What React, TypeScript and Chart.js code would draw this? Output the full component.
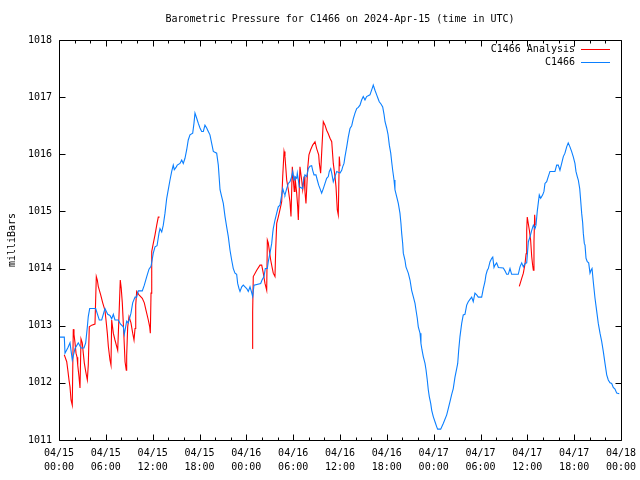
import React, { useEffect, useRef } from "react";
import { Chart, registerables } from "chart.js";

Chart.register(...registerables);

const titleText = "Barometric Pressure for C1466 on 2024-Apr-15 (time in UTC)";
const yAxisTitle = "milliBars";
const legendLabels = ["C1466 Analysis", "C1466"];
const seriesColors = ["#ff0000", "#0a7fff"];

// x in hours since 2024-04-15 00:00 UTC
const xTickLabels: string[][] = [
  ["04/15", "00:00"], ["04/15", "06:00"], ["04/15", "12:00"], ["04/15", "18:00"],
  ["04/16", "00:00"], ["04/16", "06:00"], ["04/16", "12:00"], ["04/16", "18:00"],
  ["04/17", "00:00"], ["04/17", "06:00"], ["04/17", "12:00"], ["04/17", "18:00"],
  ["04/18", "00:00"],
];
const yTickLabels = ["1011", "1012", "1013", "1014", "1015", "1016", "1017", "1018"];

const stationSeries: [number, number][] = [
  [0.13,1012.80],[0.68,1012.80],[0.77,1012.52],[1.15,1012.62],[1.41,1012.70],[1.70,1012.40],[2.05,1012.60],[2.47,1012.70],[2.82,1012.61],[3.20,1012.61],[3.42,1012.70],[3.63,1012.98],[3.75,1013.16],[3.93,1013.30],[4.70,1013.30],[5.16,1013.10],[5.47,1013.10],[5.89,1013.30],[6.24,1013.20],[6.53,1013.18],[6.75,1013.12],[6.96,1013.20],[7.17,1013.10],[7.60,1013.10],[7.86,1013.03],[8.24,1012.98],[8.37,1012.85],[8.67,1013.08],[8.88,1013.05],[9.22,1013.22],[9.44,1013.40],[9.74,1013.50],[9.95,1013.50],[10.16,1013.61],[10.67,1013.61],[10.93,1013.71],[11.24,1013.86],[11.53,1013.99],[11.79,1014.04],[12.08,1014.27],[12.30,1014.38],[12.56,1014.40],[12.81,1014.62],[12.94,1014.70],[13.16,1014.64],[13.36,1014.76],[13.58,1014.97],[13.80,1015.23],[14.00,1015.38],[14.22,1015.55],[14.44,1015.70],[14.64,1015.81],[14.77,1015.73],[14.99,1015.77],[15.15,1015.81],[15.50,1015.84],[15.72,1015.90],[15.92,1015.84],[16.14,1015.93],[16.36,1016.08],[16.56,1016.25],[16.78,1016.34],[17.13,1016.37],[17.29,1016.54],[17.42,1016.72],[17.64,1016.63],[17.85,1016.54],[18.06,1016.46],[18.28,1016.40],[18.49,1016.40],[18.70,1016.51],[18.92,1016.46],[19.13,1016.40],[19.34,1016.34],[19.56,1016.19],[19.77,1016.05],[20.20,1016.02],[20.41,1015.81],[20.63,1015.38],[20.84,1015.26],[21.05,1015.14],[21.27,1014.91],[21.48,1014.73],[21.69,1014.56],[21.91,1014.32],[22.12,1014.15],[22.33,1014.00],[22.55,1013.92],[22.76,1013.90],[22.89,1013.74],[23.06,1013.65],[23.19,1013.60],[23.41,1013.68],[23.61,1013.71],[23.83,1013.68],[24.05,1013.65],[24.25,1013.60],[24.47,1013.68],[24.64,1013.60],[24.81,1013.51],[24.98,1013.71],[25.84,1013.74],[26.01,1013.80],[26.26,1013.86],[26.43,1014.00],[26.69,1014.00],[26.81,1014.12],[27.03,1014.27],[27.25,1014.44],[27.38,1014.62],[27.45,1014.70],[27.67,1014.85],[27.89,1014.97],[28.09,1015.08],[28.31,1015.11],[28.53,1015.29],[28.66,1015.40],[28.83,1015.32],[28.95,1015.29],[29.17,1015.40],[29.38,1015.49],[29.59,1015.52],[29.81,1015.61],[29.94,1015.70],[30.11,1015.55],[30.23,1015.61],[30.45,1015.58],[30.53,1015.67],[30.66,1015.55],[30.78,1015.43],[31.22,1015.40],[31.30,1015.52],[31.51,1015.64],[31.73,1015.61],[31.94,1015.75],[32.15,1015.79],[32.37,1015.80],[32.50,1015.72],[32.67,1015.64],[32.92,1015.64],[33.09,1015.55],[33.27,1015.46],[33.44,1015.40],[33.65,1015.32],[33.86,1015.40],[34.08,1015.49],[34.29,1015.58],[34.50,1015.61],[34.63,1015.70],[34.81,1015.75],[34.94,1015.67],[35.14,1015.52],[35.36,1015.61],[35.58,1015.70],[36.00,1015.67],[36.22,1015.72],[36.34,1015.78],[36.51,1015.84],[36.64,1015.96],[36.86,1016.13],[37.06,1016.30],[37.28,1016.45],[37.50,1016.50],[37.70,1016.62],[37.92,1016.72],[38.14,1016.80],[38.34,1016.82],[38.56,1016.86],[38.77,1016.95],[38.98,1017.01],[39.20,1016.95],[39.41,1017.01],[39.84,1017.04],[40.19,1017.18],[40.26,1017.21],[40.48,1017.12],[40.70,1017.04],[40.86,1016.98],[41.03,1016.92],[41.25,1016.88],[41.47,1016.83],[41.64,1016.70],[41.77,1016.57],[41.98,1016.46],[42.15,1016.35],[42.32,1016.16],[42.50,1016.02],[42.62,1015.87],[42.75,1015.72],[42.92,1015.55],[43.04,1015.38],[43.26,1015.26],[43.47,1015.14],[43.68,1014.97],[43.81,1014.79],[43.90,1014.62],[44.03,1014.44],[44.11,1014.27],[44.32,1014.15],[44.45,1014.03],[44.75,1013.92],[44.97,1013.80],[45.18,1013.62],[45.39,1013.51],[45.61,1013.39],[45.74,1013.27],[45.90,1013.13],[46.03,1012.98],[46.25,1012.87],[46.37,1012.69],[46.50,1012.58],[46.67,1012.46],[46.89,1012.34],[47.02,1012.23],[47.18,1012.05],[47.31,1011.88],[47.44,1011.76],[47.62,1011.64],[47.75,1011.52],[47.95,1011.41],[48.17,1011.32],[48.39,1011.23],[48.51,1011.19],[48.90,1011.19],[49.23,1011.29],[49.67,1011.44],[49.87,1011.55],[50.09,1011.67],[50.31,1011.80],[50.51,1011.90],[50.73,1012.10],[50.95,1012.25],[51.08,1012.34],[51.21,1012.58],[51.37,1012.81],[51.59,1013.04],[51.79,1013.19],[52.01,1013.20],[52.23,1013.36],[52.43,1013.42],[52.65,1013.46],[52.87,1013.50],[53.07,1013.42],[53.29,1013.57],[53.51,1013.54],[53.72,1013.50],[54.15,1013.50],[54.36,1013.65],[54.57,1013.77],[54.70,1013.89],[54.87,1013.97],[55.00,1014.00],[55.22,1014.12],[55.44,1014.18],[55.57,1014.20],[55.73,1014.02],[55.86,1014.06],[56.07,1014.10],[56.29,1014.02],[56.92,1014.01],[57.14,1013.96],[57.35,1013.90],[57.56,1013.90],[57.78,1014.00],[57.99,1013.90],[58.84,1013.90],[59.06,1014.03],[59.28,1014.10],[59.49,1014.03],[59.71,1014.09],[59.92,1014.10],[60.13,1014.47],[60.35,1014.56],[60.56,1014.67],[60.77,1014.76],[60.98,1014.70],[61.11,1014.76],[61.27,1015.00],[61.53,1015.29],[61.71,1015.23],[61.97,1015.29],[62.13,1015.35],[62.26,1015.49],[62.48,1015.52],[62.68,1015.61],[62.90,1015.70],[63.54,1015.70],[63.76,1015.81],[63.96,1015.81],[64.18,1015.72],[64.40,1015.84],[64.61,1015.96],[64.82,1016.02],[65.04,1016.13],[65.24,1016.20],[65.46,1016.13],[65.67,1016.05],[65.88,1015.96],[66.10,1015.84],[66.23,1015.70],[66.40,1015.61],[66.53,1015.55],[66.71,1015.40],[66.83,1015.20],[66.96,1014.97],[67.09,1014.80],[67.17,1014.62],[67.30,1014.44],[67.39,1014.41],[67.52,1014.18],[67.68,1014.12],[67.86,1014.10],[68.03,1013.92],[68.16,1013.97],[68.29,1014.00],[68.45,1013.77],[68.67,1013.48],[68.89,1013.25],[69.09,1013.04],[69.31,1012.87],[69.53,1012.72],[69.73,1012.55],[69.95,1012.34],[70.17,1012.14],[70.37,1012.05],[70.59,1012.00],[70.81,1011.99],[71.01,1011.92],[71.23,1011.89],[71.45,1011.82],[71.78,1011.81],
];

const analysisDay1: [number, number][] = [
  [0.68,1012.49],[0.99,1012.37],[1.15,1012.20],[1.28,1012.05],[1.41,1011.93],[1.54,1011.70],[1.70,1011.61],[1.83,1012.94],[1.92,1012.85],[2.05,1012.70],[2.18,1012.52],[2.31,1012.45],[2.40,1012.31],[2.56,1012.11],[2.69,1011.91],[2.82,1012.77],[2.98,1012.70],[3.11,1012.52],[3.24,1012.35],[3.42,1012.20],[3.63,1012.05],[3.75,1012.31],[3.88,1012.98],[4.19,1013.01],[4.61,1013.03],[4.78,1013.86],[4.91,1013.80],[5.03,1013.69],[5.34,1013.54],[5.60,1013.40],[5.89,1013.27],[6.02,1013.10],[6.19,1012.87],[6.32,1012.64],[6.53,1012.40],[6.66,1012.31],[6.75,1013.10],[6.96,1012.87],[7.17,1012.75],[7.52,1012.57],[7.69,1013.19],[7.85,1013.80],[7.97,1013.66],[8.11,1013.40],[8.29,1012.90],[8.46,1012.37],[8.62,1012.22],[8.67,1012.48],[8.80,1012.98],[8.97,1013.16],[9.22,1013.05],[9.44,1012.87],[9.61,1012.75],[9.74,1012.95],[9.83,1013.36],[9.95,1013.60],[10.25,1013.54],[10.67,1013.48],[10.93,1013.40],[11.15,1013.27],[11.44,1013.10],[11.62,1012.98],[11.70,1012.87],[11.79,1013.57],[11.88,1014.30],[12.08,1014.44],[12.30,1014.59],[12.52,1014.76],[12.72,1014.90],[12.88,1014.90],
];

const analysisDay2: [number, number][] = [
  [24.76,1012.60],[24.81,1013.25],[24.89,1013.86],[25.33,1013.97],[25.75,1014.06],[25.97,1014.06],[26.17,1013.92],[26.39,1013.74],[26.61,1013.62],[26.69,1014.50],[26.81,1014.45],[26.94,1014.32],[27.12,1014.15],[27.29,1014.03],[27.45,1013.92],[27.67,1013.86],[27.76,1014.32],[27.89,1014.79],[28.09,1014.90],[28.31,1015.03],[28.53,1015.17],[28.66,1015.61],[28.83,1016.05],[28.95,1015.96],[29.08,1015.72],[29.17,1015.55],[29.38,1015.38],[29.59,1015.17],[29.72,1014.91],[29.89,1015.78],[30.02,1015.55],[30.14,1015.35],[30.23,1015.61],[30.45,1015.32],[30.58,1015.08],[30.66,1014.85],[30.87,1015.78],[31.00,1015.64],[31.09,1015.55],[31.22,1015.38],[31.39,1015.61],[31.51,1015.35],[31.64,1015.14],[31.86,1015.75],[32.02,1015.99],[32.24,1016.08],[32.50,1016.16],[32.80,1016.22],[33.01,1016.10],[33.27,1015.99],[33.35,1015.84],[33.52,1015.67],[33.69,1016.13],[33.86,1016.57],[34.08,1016.51],[34.29,1016.42],[34.50,1016.36],[34.72,1016.28],[34.94,1016.22],[35.14,1015.84],[35.36,1015.61],[35.49,1015.43],[35.65,1015.03],[35.78,1014.94],[35.91,1015.96],[36.00,1015.79],
];

const analysisDay3: [number, number][] = [
  [58.97,1013.69],[59.28,1013.83],[59.49,1013.92],[59.71,1014.09],[59.84,1014.26],[59.92,1014.67],[59.99,1014.90],[60.13,1014.78],[60.26,1014.67],[60.42,1014.50],[60.56,1014.21],[60.68,1014.06],[60.77,1013.97],[60.85,1014.47],[60.94,1014.94],[61.01,1014.76],
];

const FONT = '"DejaVu Sans Mono", "Liberation Mono", monospace';

function toPoints(rows: [number, number][]) {
  return rows.map(([x, y]) => ({ x, y }));
}

const framePlugin = {
  id: "gnuplotFrame",
  afterDraw(chart: any) {
    const { ctx, chartArea, scales } = chart;
    const { left, right, top, bottom } = chartArea;
    const xs = scales.x;
    const ys = scales.y;
    const L = Math.round(left) + 0.5;
    const R = Math.round(right) + 0.5;
    const T = Math.round(top) + 0.5;
    const B = Math.round(bottom) + 0.5;
    ctx.save();
    ctx.strokeStyle = "#000";
    ctx.lineWidth = 1;
    ctx.beginPath();
    ctx.rect(L, T, R - L, B - T);
    for (let h = 0; h <= 72; h += 2) {
      const px = Math.round(xs.getPixelForValue(h)) + 0.5;
      const len = h % 6 === 0 ? 6 : 3;
      ctx.moveTo(px, B);
      ctx.lineTo(px, B - len);
      ctx.moveTo(px, T);
      ctx.lineTo(px, T + len);
    }
    for (let v = 1011; v <= 1018; v += 1) {
      const py = Math.round(ys.getPixelForValue(v)) + 0.5;
      ctx.moveTo(L, py);
      ctx.lineTo(L + 6, py);
      ctx.moveTo(R, py);
      ctx.lineTo(R - 6, py);
    }
    ctx.stroke();

    ctx.fillStyle = "#000";
    ctx.font = `10px ${FONT}`;
    ctx.textBaseline = "middle";
    ctx.textAlign = "center";
    ctx.fillText(titleText, (left + right) / 2, top - 21);

    // legend
    ctx.textAlign = "right";
    const lx = right - 46;
    const rows = [top + 9, top + 22];
    legendLabels.forEach((lab, i) => {
      ctx.fillStyle = "#000";
      ctx.fillText(lab, lx, rows[i]);
      ctx.beginPath();
      ctx.strokeStyle = seriesColors[i];
      ctx.moveTo(right - 40, Math.round(rows[i]) + 0.5);
      ctx.lineTo(right - 11, Math.round(rows[i]) + 0.5);
      ctx.stroke();
    });

    // y axis title
    ctx.save();
    ctx.translate(12, (top + bottom) / 2);
    ctx.rotate(-Math.PI / 2);
    ctx.textAlign = "center";
    ctx.fillStyle = "#000";
    ctx.fillText(yAxisTitle, 0, 0);
    ctx.restore();
    ctx.restore();
  },
};

export default function App() {
  const ref = useRef<HTMLCanvasElement | null>(null);

  useEffect(() => {
    if (!ref.current) return;
    const analysisData: any[] = [
      ...toPoints(analysisDay1),
      { x: 13.0, y: null },
      ...toPoints(analysisDay2),
      { x: 36.1, y: null },
      ...toPoints(analysisDay3),
    ];
    const chart = new Chart(ref.current, {
      type: "line",
      data: {
        datasets: [
          {
            label: legendLabels[0],
            data: analysisData,
            borderColor: seriesColors[0],
            borderWidth: 1.1,
            pointRadius: 0,
            tension: 0,
            spanGaps: false,
            order: 1,
          },
          {
            label: legendLabels[1],
            data: toPoints(stationSeries),
            borderColor: seriesColors[1],
            borderWidth: 1.1,
            pointRadius: 0,
            tension: 0,
            order: 0,
          },
        ],
      },
      options: {
        responsive: false,
        animation: false,
        layout: { padding: { top: 40, right: 19, left: 0, bottom: 0 } },
        plugins: {
          legend: { display: false },
          title: { display: false },
          tooltip: { enabled: false },
        },
        scales: {
          x: {
            type: "linear",
            min: 0,
            max: 72,
            grid: { display: false, drawTicks: false },
            border: { display: false },
            afterFit: (s: any) => {
              s.height = 40;
              s.paddingLeft = 0;
              s.paddingRight = 0;
            },
            afterBuildTicks: (s: any) => {
              s.ticks = xTickLabels.map((_, i) => ({ value: i * 6 }));
            },
            ticks: {
              autoSkip: false,
              maxRotation: 0,
              minRotation: 0,
              padding: 6,
              color: "#000",
              font: { family: FONT, size: 10, lineHeight: 1.45 },
              callback: (_v: any, i: number) => xTickLabels[i],
            },
          },
          y: {
            type: "linear",
            min: 1011,
            max: 1018,
            grid: { display: false, drawTicks: false },
            border: { display: false },
            afterFit: (s: any) => {
              s.width = 59;
              s.paddingTop = 0;
              s.paddingBottom = 0;
            },
            afterBuildTicks: (s: any) => {
              s.ticks = yTickLabels.map((_, i) => ({ value: 1011 + i }));
            },
            ticks: {
              padding: 7,
              color: "#000",
              font: { family: FONT, size: 10 },
              callback: (_v: any, i: number) => yTickLabels[i],
            },
          },
        },
      },
      plugins: [framePlugin],
    });
    return () => chart.destroy();
  }, []);

  return (
    <div style={{ position: "absolute", left: 0, top: 0, width: 640, height: 480, background: "#fff" }}>
      <canvas ref={ref} width={640} height={480} />
    </div>
  );
}
